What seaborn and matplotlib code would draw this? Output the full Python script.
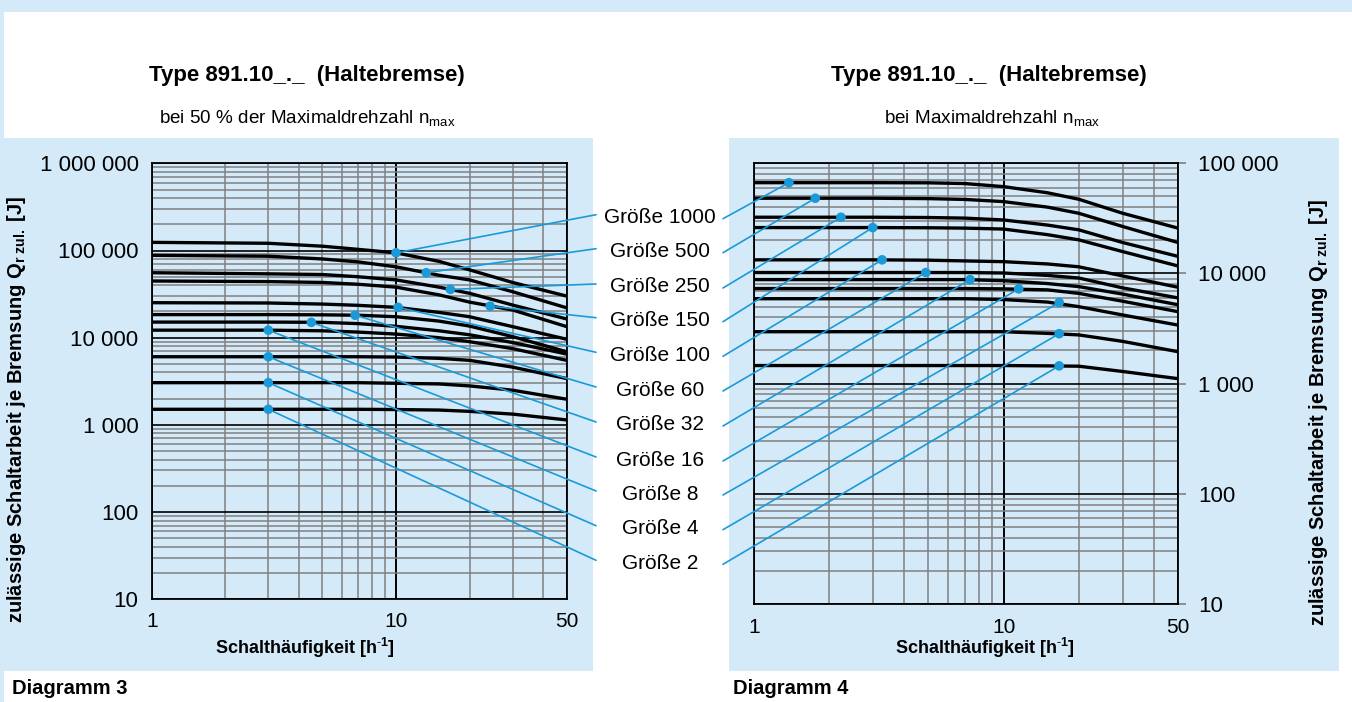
import numpy as np
import pandas as pd
import matplotlib
matplotlib.use("Agg")
import matplotlib.pyplot as plt
import seaborn as sns
from matplotlib.patches import Rectangle, ConnectionPatch
from matplotlib.ticker import FixedLocator, LogLocator, FuncFormatter, NullFormatter

# --- data ---------------------------------------------------------------
sizes = ["1000", "500", "250", "150", "100", "60", "32", "16", "8", "4", "2"]
freq = [1, 3, 5, 7, 10, 15, 20, 30, 50]

# Diagramm 3: bei 50 % der Maximaldrehzahl
q_half_1000 = [124000, 121000, 112000, 103000, 94000, 75000, 60000, 43000, 30000]
q_half_500 = [88000, 86000, 80000, 74000, 65000, 52000, 46000, 33700, 22000]
q_half_250 = [55600, 54000, 53000, 50000, 46000, 38000, 32300, 23700, 16400]
q_half_150 = [44700, 44000, 43000, 41000, 38000, 31000, 25600, 20800, 13400]
q_half_100 = [25200, 25000, 24300, 23500, 22300, 19500, 17400, 13400, 9600]
q_half_60 = [18400, 18400, 18300, 18100, 17400, 15500, 13600, 10300, 6900]
q_half_32 = [15100, 15100, 15000, 14500, 13500, 12000, 10800, 8800, 6500]
q_half_16 = [12200, 12200, 12000, 11600, 11000, 10000, 9000, 7500, 5500]
q_half_8 = [6050, 6050, 6050, 6050, 6000, 5800, 5500, 4600, 3400]
q_half_4 = [3050, 3050, 3050, 3050, 3000, 2950, 2800, 2500, 1970]
q_half_2 = [1510, 1510, 1510, 1510, 1500, 1480, 1430, 1330, 1140]

dot_half_x = [10, 13.3, 16.7, 24.3, 10.2, 6.8, 4.5, 3, 3, 3, 3]
dot_half_y = [94000, 55600, 35800, 23000, 22300, 18100, 15000, 12200, 6050, 3050, 1510]

# Diagramm 4: bei Maximaldrehzahl
q_max_1000 = [66700, 66700, 66500, 65500, 61400, 54000, 47200, 35200, 25800]
q_max_500 = [48200, 48200, 47800, 47000, 44900, 40000, 35200, 26700, 19100]
q_max_250 = [32400, 32400, 32200, 31800, 30600, 27500, 24900, 19100, 14300]
q_max_150 = [26100, 26100, 26000, 25800, 25300, 22500, 20200, 15800, 11700]
q_max_100 = [13300, 13300, 13200, 13000, 12800, 12200, 11500, 9500, 7500]
q_max_60 = [10200, 10200, 10200, 10200, 10100, 9600, 9100, 7400, 6000]
q_max_32 = [8800, 8800, 8800, 8800, 8600, 8100, 7600, 6500, 5200]
q_max_16 = [7300, 7300, 7300, 7300, 7250, 7100, 6600, 5600, 4500]
q_max_8 = [5900, 5900, 5900, 5900, 5800, 5500, 5000, 4200, 3400]
q_max_4 = [2960, 2960, 2960, 2960, 2960, 2860, 2770, 2420, 1950]
q_max_2 = [1460, 1460, 1460, 1460, 1460, 1450, 1440, 1290, 1110]

dot_max_x = [1.38, 1.76, 2.23, 2.99, 3.26, 4.88, 7.34, 11.5, 16.7, 16.7, 16.7]
dot_max_y = [66700, 48200, 32400, 26100, 13300, 10200, 8800, 7250, 5450, 2840, 1450]

q_half = [q_half_1000, q_half_500, q_half_250, q_half_150, q_half_100, q_half_60,
          q_half_32, q_half_16, q_half_8, q_half_4, q_half_2]
q_max = [q_max_1000, q_max_500, q_max_250, q_max_150, q_max_100, q_max_60,
         q_max_32, q_max_16, q_max_8, q_max_4, q_max_2]

# --- styling ----------------------------------------------------------------
W, H = 1352, 702
PANEL = "#d4eaf9"
LEADER = "#1a9ad8"
GRID = "#808080"

sns.set_style("white")
plt.rcParams["font.family"] = ["Liberation Sans", "DejaVu Sans"]
plt.rcParams["mathtext.fontset"] = "custom"
plt.rcParams["mathtext.rm"] = "Liberation Sans"
plt.rcParams["mathtext.bf"] = "Liberation Sans:bold"
plt.rcParams["mathtext.it"] = "Liberation Sans:italic"
for key in ["text.color", "axes.labelcolor", "xtick.color", "ytick.color"]:
    plt.rcParams[key] = "black"


def frac(x0, y0, x1, y1):
    # image pixel box (origin top-left) -> figure fraction [l, b, w, h]
    return [x0 / W, 1 - y1 / H, (x1 - x0) / W, (y1 - y0) / H]


def to_long(values):
    rows = []
    for s, ys in zip(sizes, values):
        for x, y in zip(freq, ys):
            rows.append({"size": s, "freq": x, "q": y})
    return pd.DataFrame(rows)


fig = plt.figure(figsize=(W / 100, H / 100), dpi=100)
fig.patch.set_facecolor("white")

# outer frame and blue panels
for box in [(0, 0, W, 12), (0, 0, 4, H), (0, 138, 593, 671), (729, 138, 1339, 671)]:
    l, b, w, h = frac(*box)
    fig.patches.append(Rectangle((l, b), w, h, transform=fig.transFigure,
                                 facecolor=PANEL, edgecolor="none", zorder=-10))

ax1 = fig.add_axes(frac(151.8, 163.3, 566.7, 599.3))
ax2 = fig.add_axes(frac(754, 163.3, 1178, 604))


def style_axis(ax, ylim, right=False):
    ax.set_xscale("log")
    ax.set_yscale("log")
    ax.set_xlim(1, 50)
    ax.set_ylim(*ylim)
    ax.set_facecolor(PANEL)
    ax.set_axisbelow(True)
    ax.xaxis.set_major_locator(FixedLocator([1, 10, 50]))
    ax.xaxis.set_minor_locator(FixedLocator([2, 3, 4, 5, 6, 7, 8, 9, 20, 30, 40]))
    ax.xaxis.set_major_formatter(FuncFormatter(lambda v, p: f"{v:g}"))
    ax.xaxis.set_minor_formatter(NullFormatter())
    ax.yaxis.set_major_locator(LogLocator(base=10, numticks=12))
    ax.yaxis.set_minor_locator(LogLocator(base=10, subs=np.arange(2, 10), numticks=100))
    ax.yaxis.set_major_formatter(FuncFormatter(lambda v, p: f"{int(round(v)):,}".replace(",", " ")))
    ax.yaxis.set_minor_formatter(NullFormatter())
    ax.grid(which="minor", color=GRID, lw=1.1)
    ax.grid(which="major", axis="y", color="black", lw=1.2)
    ax.grid(which="major", axis="x", color="black", lw=1.4)
    ax.tick_params(which="major", length=6, width=1.2, color=GRID, direction="out")
    ax.tick_params(axis="y", which="major", labelsize=16)
    ax.tick_params(axis="x", which="major", labelsize=15)
    ax.tick_params(which="minor", length=0)
    if right:
        ax.yaxis.tick_right()
        ax.tick_params(axis="y", which="major", pad=8.5)
        ax.tick_params(axis="x", which="major", pad=4)
    else:
        ax.tick_params(axis="y", which="major", pad=3.5)
        ax.tick_params(axis="x", which="major", pad=3)
    for sp in ax.spines.values():
        sp.set_color("black")
        sp.set_linewidth(1.3)
    ax.set_xlabel("")
    ax.set_ylabel("")


def draw(ax, values, dx, dy):
    sns.lineplot(data=to_long(values), x="freq", y="q", units="size", estimator=None,
                 color="black", lw=2.4, ax=ax, legend=False, zorder=3)
    sns.scatterplot(x=dx, y=dy, color=LEADER, s=48, edgecolor="none", ax=ax,
                    zorder=6, legend=False)


draw(ax1, q_half, dot_half_x, dot_half_y)
draw(ax2, q_max, dot_max_x, dot_max_y)
style_axis(ax1, (10, 1e6))
style_axis(ax2, (10, 1e5), right=True)

# labels in the middle with leader lines
label_y = [217.7, 251.7, 287, 320.7, 355.3, 390, 425, 460, 494, 528.7, 563.3]
for i, s in enumerate(sizes):
    fig.text(660 / W, 1 - label_y[i] / H, f"Größe {s}", ha="center", va="center",
             fontsize=15)
    c1 = ConnectionPatch(xyA=(dot_half_x[i], dot_half_y[i]), coordsA=ax1.transData,
                         xyB=(596 / W, 1 - (label_y[i] - 3) / H), coordsB=fig.transFigure,
                         color=LEADER, lw=1.2, zorder=5)
    c2 = ConnectionPatch(xyA=(dot_max_x[i], dot_max_y[i]), coordsA=ax2.transData,
                         xyB=(723 / W, 1 - (label_y[i] + 1) / H), coordsB=fig.transFigure,
                         color=LEADER, lw=1.2, zorder=5)
    fig.add_artist(c1)
    fig.add_artist(c2)

# titles
title = "Type 891.10_._  (Haltebremse)"
fig.text(307 / W, 1 - 75 / H, title, ha="center", va="center", fontsize=16,
         fontweight="bold")
fig.text(989 / W, 1 - 75 / H, title, ha="center", va="center", fontsize=16,
         fontweight="bold")
fig.text(307 / W, 1 - 118 / H, r"bei 50 % der Maximaldrehzahl n$_{\mathregular{max}}$",
         ha="center", va="center", fontsize=13.6)
fig.text(992 / W, 1 - 118 / H, r"bei Maximaldrehzahl n$_{\mathregular{max}}$",
         ha="center", va="center", fontsize=13.6)

xlab = r"Schalthäufigkeit [h$^{\mathbf{\text{-}1}}$]"
fig.text(305 / W, 1 - 648 / H, xlab, ha="center", va="center", fontsize=13,
         fontweight="bold")
fig.text(985 / W, 1 - 648 / H, xlab, ha="center", va="center", fontsize=13,
         fontweight="bold")

ylab = r"zulässige Schaltarbeit je Bremsung Q$_{\mathbf{r\ zul.}}$ [J]"
fig.text(17 / W, 1 - 409 / H, ylab, ha="center", va="center", rotation=90,
         fontsize=14.5, fontweight="bold")
fig.text(1318 / W, 1 - 412 / H, ylab, ha="center", va="center", rotation=90,
         fontsize=14.5, fontweight="bold")

fig.text(12 / W, 1 - 689 / H, "Diagramm 3", ha="left", va="center", fontsize=14.5,
         fontweight="bold")
fig.text(733 / W, 1 - 689 / H, "Diagramm 4", ha="left", va="center", fontsize=14.5,
         fontweight="bold")

fig.savefig("out.png", dpi=100, facecolor="white")
